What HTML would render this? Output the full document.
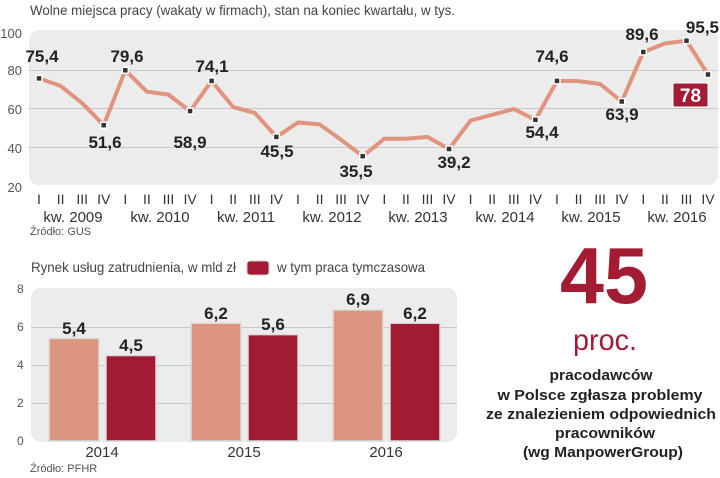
<!DOCTYPE html>
<html><head><meta charset="utf-8"><style>
body{margin:0;background:#fff;}
svg{display:block;font-family:"Liberation Sans Narrow","Liberation Sans",sans-serif;}
</style></head><body>
<svg width="720" height="478" viewBox="0 0 720 478" xmlns="http://www.w3.org/2000/svg">
<text x="30" y="15" font-size="14" fill="#444" textLength="425" lengthAdjust="spacingAndGlyphs">Wolne miejsca pracy (wakaty w firmach), stan na koniec kwartału, w tys.</text>
<rect x="29" y="30" width="689" height="155" rx="10" fill="#ececec"/>
<g stroke="#c8c8c8" stroke-width="1">
<line x1="29" y1="70.5" x2="718" y2="70.5"/><line x1="29" y1="108.5" x2="718" y2="108.5"/><line x1="29" y1="147.5" x2="718" y2="147.5"/>
</g>
<g font-size="13" fill="#555" text-anchor="end">
<text x="22" y="38">100</text><text x="22" y="75">80</text><text x="22" y="114">60</text><text x="22" y="153">40</text><text x="22" y="192">20</text>
</g>
<polyline fill="none" stroke="#e0937d" stroke-width="4" stroke-linejoin="round" points="
39,78.4 60.6,85.9 82.2,103.2 103.7,125.2
125.3,70.3 146.9,91.7 168.5,94.6 190.1,111.1
211.6,80.9 233.2,107.1 254.8,112.9 276.4,136.9
298,122.5 319.6,124.4 341.1,139.8 362.7,156.2
384.3,138.8 405.9,138.8 427.5,136.9 449,149
470.6,120.5 492.2,114.8 513.8,109 535.4,119.8
557,80.9 578.5,81.1 600.1,84 621.7,101.5
643.3,52 664.9,43.5 686.5,40.7 708,74.5"/>
<g fill="#333" stroke="#fff" stroke-width="1.5">
<rect x="36" y="75.4" width="6" height="6"/><rect x="100.7" y="122.2" width="6" height="6"/><rect x="122.3" y="67.3" width="6" height="6"/><rect x="187.1" y="108.1" width="6" height="6"/><rect x="208.6" y="77.9" width="6" height="6"/><rect x="273.4" y="133.9" width="6" height="6"/><rect x="359.7" y="153.2" width="6" height="6"/><rect x="446" y="146" width="6" height="6"/><rect x="532.4" y="116.8" width="6" height="6"/><rect x="554" y="77.9" width="6" height="6"/><rect x="618.7" y="98.5" width="6" height="6"/><rect x="640.3" y="49" width="6" height="6"/><rect x="683.5" y="37.7" width="6" height="6"/><rect x="705" y="71.5" width="6" height="6"/>
</g>
<g font-size="17" font-weight="bold" fill="#222" text-anchor="middle">
<text x="42" y="62">75,4</text><text x="105" y="148">51,6</text><text x="127" y="62">79,6</text><text x="190" y="148">58,9</text><text x="212" y="72">74,1</text><text x="277" y="157">45,5</text><text x="356" y="177">35,5</text><text x="454" y="168">39,2</text><text x="542" y="138">54,4</text><text x="552" y="62">74,6</text><text x="622" y="120">63,9</text><text x="642" y="40">89,6</text><text x="719" y="33" text-anchor="end">95,5</text>
</g>
<rect x="673" y="83" width="35" height="24" rx="2" fill="#a31c33" stroke="#fff"/>
<text x="690.5" y="102" font-size="19" font-weight="bold" fill="#fff" text-anchor="middle">78</text>
<g font-size="14" fill="#333" text-anchor="middle">
<text x="39" y="204">I</text><text x="60.6" y="204">II</text><text x="82.2" y="204">III</text><text x="103.7" y="204">IV</text>
<text x="125.3" y="204">I</text><text x="146.9" y="204">II</text><text x="168.5" y="204">III</text><text x="190.1" y="204">IV</text>
<text x="211.6" y="204">I</text><text x="233.2" y="204">II</text><text x="254.8" y="204">III</text><text x="276.4" y="204">IV</text>
<text x="298" y="204">I</text><text x="319.6" y="204">II</text><text x="341.1" y="204">III</text><text x="362.7" y="204">IV</text>
<text x="384.3" y="204">I</text><text x="405.9" y="204">II</text><text x="427.5" y="204">III</text><text x="449" y="204">IV</text>
<text x="470.6" y="204">I</text><text x="492.2" y="204">II</text><text x="513.8" y="204">III</text><text x="535.4" y="204">IV</text>
<text x="557" y="204">I</text><text x="578.5" y="204">II</text><text x="600.1" y="204">III</text><text x="621.7" y="204">IV</text>
<text x="643.3" y="204">I</text><text x="664.9" y="204">II</text><text x="686.5" y="204">III</text><text x="708" y="204">IV</text>
</g>
<g font-size="15" fill="#333" text-anchor="middle">
<text x="73" y="222">kw. 2009</text><text x="160" y="222">kw. 2010</text><text x="246" y="222">kw. 2011</text><text x="332" y="222">kw. 2012</text><text x="418" y="222">kw. 2013</text><text x="505" y="222">kw. 2014</text><text x="591" y="222">kw. 2015</text><text x="677" y="222">kw. 2016</text>
</g>
<text x="30" y="235" font-size="11" fill="#555">Źródło: GUS</text>

<text x="31" y="272" font-size="14" fill="#444" textLength="205" lengthAdjust="spacingAndGlyphs">Rynek usług zatrudnienia, w mld zł</text>
<rect x="247" y="261" width="22" height="14" rx="3" fill="#a31b32" stroke="#ccc"/>
<text x="277" y="272" font-size="14" fill="#444" textLength="148" lengthAdjust="spacingAndGlyphs">w tym praca tymczasowa</text>
<rect x="31" y="288" width="426" height="154" rx="10" fill="#ececec"/>
<g stroke="#c8c8c8"><line x1="31" y1="327.5" x2="457" y2="327.5"/><line x1="31" y1="365.5" x2="457" y2="365.5"/><line x1="31" y1="403.5" x2="457" y2="403.5"/></g>
<g font-size="12" fill="#555">
<text x="17" y="293">8</text><text x="17" y="331">6</text><text x="17" y="369">4</text><text x="17" y="407">2</text><text x="17" y="445">0</text>
</g>
<g stroke="#ddd" stroke-width="1.5">
<rect x="49" y="338.4" width="50" height="102.6" fill="#dc957f"/>
<rect x="106" y="355.5" width="50" height="85.5" fill="#a31b32"/>
<rect x="191" y="323.2" width="50" height="117.8" fill="#dc957f"/>
<rect x="248" y="334.6" width="50" height="106.4" fill="#a31b32"/>
<rect x="333" y="309.9" width="50" height="131.1" fill="#dc957f"/>
<rect x="390" y="323.2" width="50" height="117.8" fill="#a31b32"/>
</g>
<g font-size="17" font-weight="bold" fill="#222" text-anchor="middle">
<text x="74" y="334">5,4</text><text x="131" y="351">4,5</text><text x="216" y="319">6,2</text><text x="273" y="330">5,6</text><text x="358" y="305">6,9</text><text x="415" y="319">6,2</text>
</g>
<g font-size="15" fill="#333" text-anchor="middle">
<text x="102" y="457">2014</text><text x="244" y="457">2015</text><text x="386" y="457">2016</text>
</g>
<text x="30" y="472" font-size="11" fill="#555">Źródło: PFHR</text>

<text x="604" y="303" font-size="80" font-weight="bold" fill="#a31c33" text-anchor="middle" font-family="Liberation Sans, sans-serif" textLength="88" lengthAdjust="spacingAndGlyphs">45</text>
<text x="605" y="350" font-size="30" fill="#a31c33" text-anchor="middle" textLength="64" lengthAdjust="spacingAndGlyphs">proc.</text>
<g font-size="15" font-weight="bold" fill="#222" text-anchor="middle" font-family="Liberation Sans, sans-serif">
<text x="601" y="380" textLength="103" lengthAdjust="spacingAndGlyphs">pracodawców</text>
<text x="600" y="400" textLength="205" lengthAdjust="spacingAndGlyphs">w Polsce zgłasza problemy</text>
<text x="601" y="419" textLength="230" lengthAdjust="spacingAndGlyphs">ze znalezieniem odpowiednich</text>
<text x="605" y="438" textLength="100" lengthAdjust="spacingAndGlyphs">pracowników</text>
<text x="603" y="457" textLength="160" lengthAdjust="spacingAndGlyphs">(wg ManpowerGroup)</text>
</g>
</svg>
</body></html>
